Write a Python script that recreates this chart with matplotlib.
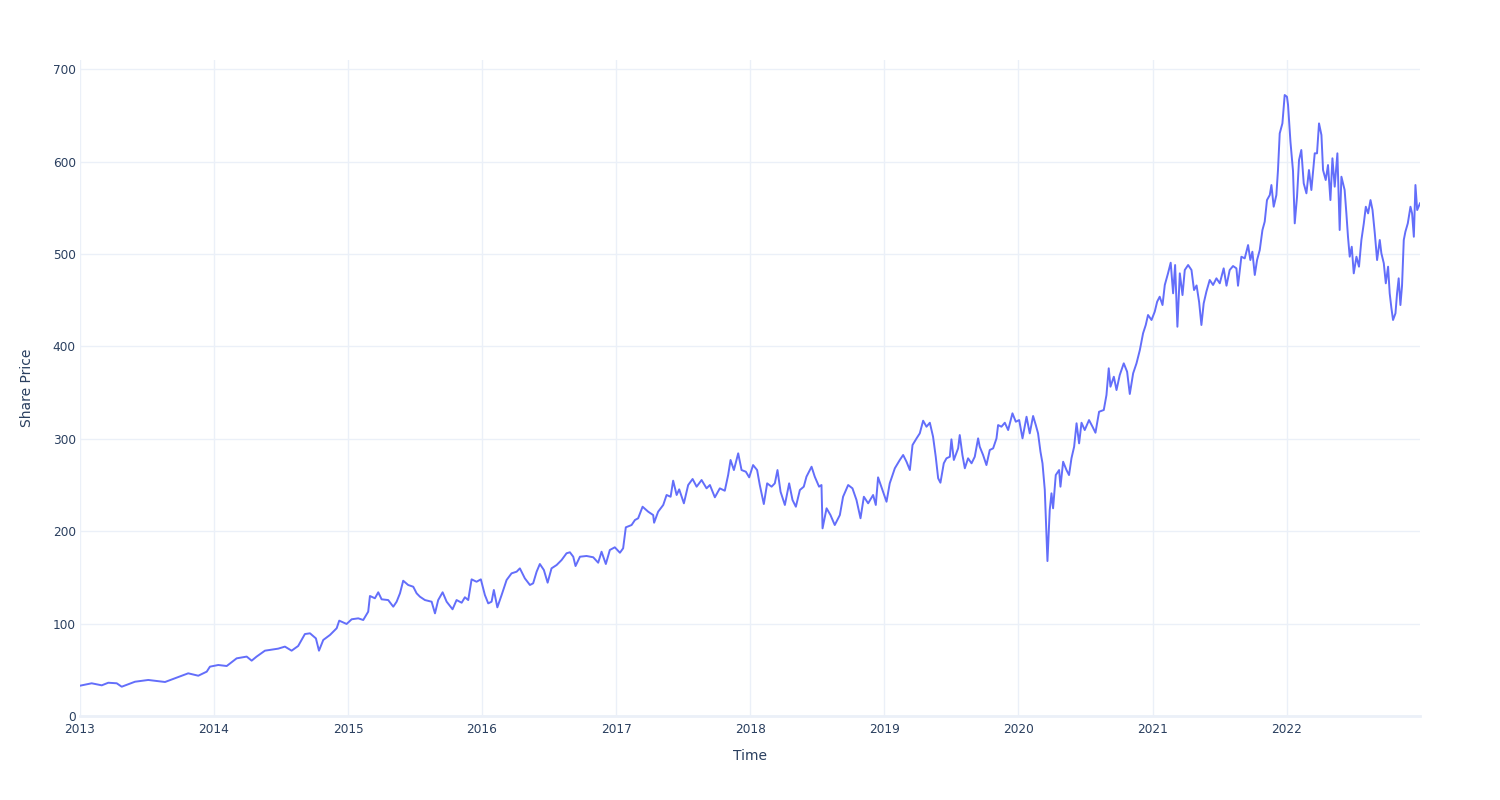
import matplotlib
matplotlib.use("Agg")
import matplotlib.pyplot as plt
import matplotlib.dates as mdates
import pandas as pd
import numpy as np

# time in years since 2013-01-01
t_years = [
 0, 0.087, 0.162, 0.211, 0.274, 0.311, 0.410, 0.509, 0.634, 0.708, 0.807, 0.882, 0.945, 0.969,
 1.031, 1.094, 1.168, 1.243, 1.280, 1.317, 1.379, 1.478, 1.528, 1.578, 1.627, 1.677, 1.715,
 1.759, 1.782, 1.814, 1.864, 1.914, 1.933, 1.988, 2.026, 2.075, 2.112, 2.149, 2.162, 2.199,
 2.224, 2.249, 2.298, 2.336, 2.361, 2.386, 2.410, 2.447, 2.485, 2.510, 2.535, 2.572, 2.622,
 2.647, 2.671, 2.704, 2.734, 2.778, 2.808, 2.846, 2.870, 2.895, 2.920, 2.957, 2.989,
 3.019, 3.044, 3.069, 3.086, 3.112, 3.144, 3.181, 3.218, 3.256, 3.280, 3.317, 3.355, 3.379,
 3.405, 3.429, 3.459, 3.487, 3.516, 3.554, 3.591, 3.628, 3.653, 3.678, 3.695, 3.728, 3.777,
 3.827, 3.864, 3.889, 3.921, 3.951, 3.988, 4.026, 4.050, 4.070, 4.113, 4.138, 4.162, 4.195,
 4.237, 4.274, 4.281, 4.311, 4.349, 4.374, 4.404, 4.423, 4.449,
 4.468, 4.503, 4.535, 4.568, 4.598, 4.635, 4.672, 4.697, 4.734, 4.771, 4.808, 4.833, 4.851,
 4.876, 4.908, 4.933, 4.965, 4.990, 5.019, 5.049, 5.069, 5.099, 5.124, 5.157, 5.181, 5.201,
 5.224, 5.256, 5.288, 5.313, 5.338, 5.368, 5.397, 5.417, 5.455, 5.479, 5.511, 5.529, 5.537,
 5.567, 5.596, 5.628, 5.666, 5.690, 5.728, 5.760, 5.790, 5.820, 5.845, 5.877, 5.914, 5.934,
 5.951, 5.984,
 6.014, 6.038, 6.076, 6.113, 6.138, 6.163, 6.188, 6.208, 6.238, 6.262, 6.287, 6.312, 6.337,
 6.361, 6.381, 6.399, 6.416, 6.441, 6.461, 6.486, 6.498, 6.516, 6.548, 6.560, 6.580, 6.598,
 6.622, 6.648, 6.672, 6.697, 6.709, 6.734, 6.759, 6.784, 6.809, 6.834, 6.846, 6.871, 6.896,
 6.921, 6.953, 6.978, 7.003, 7.028, 7.058, 7.082, 7.107, 7.127, 7.144, 7.162, 7.177, 7.194,
 7.207, 7.214, 7.231, 7.244, 7.256, 7.276,
 7.301, 7.311, 7.331, 7.356, 7.375, 7.393, 7.413, 7.431, 7.450, 7.468, 7.492, 7.524, 7.550,
 7.572, 7.599, 7.634, 7.654, 7.671, 7.684, 7.709, 7.729, 7.753, 7.783, 7.808, 7.828, 7.853,
 7.878, 7.903, 7.927, 7.947, 7.964, 7.990, 8.014, 8.032, 8.051, 8.072, 8.089, 8.113, 8.133,
 8.151, 8.166, 8.183, 8.201, 8.221, 8.238, 8.263, 8.288, 8.307, 8.326,
 8.345, 8.362, 8.379, 8.399, 8.424, 8.449, 8.474, 8.499, 8.528, 8.549, 8.573, 8.598, 8.623,
 8.635, 8.660, 8.685, 8.710, 8.727, 8.742, 8.760, 8.777, 8.797, 8.817, 8.834, 8.851, 8.872,
 8.884, 8.901, 8.921, 8.933, 8.946, 8.966, 8.983, 9.000,
 9.008, 9.026, 9.045, 9.058, 9.075, 9.090, 9.107, 9.125, 9.145, 9.164, 9.182, 9.207, 9.224,
 9.239, 9.257, 9.269, 9.289, 9.306, 9.324, 9.339, 9.356, 9.376, 9.393, 9.406, 9.430, 9.443,
 9.455, 9.468, 9.483, 9.498, 9.518, 9.537, 9.555, 9.573, 9.588, 9.605, 9.623, 9.638, 9.655,
 9.672, 9.692, 9.704, 9.722, 9.737, 9.754, 9.766, 9.779, 9.791, 9.809, 9.821, 9.833, 9.846,
 9.858, 9.871, 9.883, 9.901, 9.921, 9.933, 9.946, 9.958, 9.971, 9.992,
]

share_price = [
 32.8, 35.4, 33.2, 36, 35.4, 31.7, 37.1, 39, 36.8, 40.8, 46.2, 43.6, 48, 53.4,
 55.2, 54.1, 62.4, 64.3, 59.9, 64.3, 70.7, 72.9, 75.1, 70.7, 75.8, 88.7, 89.5,
 84, 70.7, 82.3, 87.7, 95, 103.2, 99.6, 104.7, 105.7, 103.9, 112.9, 129.9, 127.4,
 133.9, 126.3, 125.5, 118.3, 123.7, 132.8, 146.4, 141.8, 139.9, 132.8, 129.1, 125.5, 123.7,
 111.1, 125.5, 133.9, 123.7, 115.5, 125.5, 122.6, 128.5, 125.5, 147.9, 145.3, 147.9,
 131, 121.9, 123.7, 136.4, 117.6, 131, 147.2, 154.4, 156.2, 159.8, 149, 141.8, 143.6,
 156.2, 164.5, 158, 144.3, 159.8, 163.4, 168.8, 176.1, 177.2, 172.4, 162.3, 172.4, 173.2,
 171.8, 165.9, 177.8, 164.5, 179.7, 182.6, 176.7, 181.5, 204.2, 206.7, 212.1, 214, 226.5,
 221.1, 217.5, 209.2, 221.1, 228.4, 239.2, 237.3, 254.7, 239.2,
 245.3, 230.2, 250, 256.5, 248.2, 255.4, 246.4, 250, 236.7, 246.4, 243.8, 260.8, 277.1,
 266.2, 284.3, 266.2, 264.4, 258.3, 271.6, 266.2, 250, 229.4, 251.8, 248.2, 251.8, 266.2,
 242.7, 228.4, 251.8, 233.8, 226.5, 244.6, 248.2, 259, 269.8, 259, 248.2, 250, 203.1,
 224.8, 217.5, 206.7, 217.5, 237.3, 250, 246.4, 233.8, 214, 237.3, 230.2, 239.2, 228.4,
 258.3, 244.6,
 231.9, 251.8, 268.1, 277.1, 282.5, 275.2, 266.2, 293.3, 300.5, 305.9, 319.6, 313.1, 317.4,
 302.3, 280.6, 257.3, 252.5, 273.5, 278.9, 280.6, 299.4, 277.1, 289.7, 304.1, 282.5, 268.1,
 278.9, 273.5, 280.6, 300.5, 291.5, 282.5, 271.6, 287.9, 289.7, 300.5, 314.9, 313.1, 317.4,
 309.5, 327.6, 318.5, 320.3, 300.5, 323.9, 305.9, 324.7, 314.9, 305.9, 286, 273.5, 245,
 194, 167.7, 222.9, 241, 224.8, 260.8,
 266.2, 248.2, 275.2, 266.2, 260.8, 278.9, 291.5, 316.8, 295.1, 317.4, 309.5, 320.3, 313.1,
 306.6, 329.3, 331.2, 347.4, 376.3, 356.4, 367.2, 352.8, 369, 381.7, 372.6, 348.5, 370.9,
 381.7, 396.1, 414.2, 423.2, 434, 428.6, 437.6, 448.4, 453.8, 444.8, 466.5, 479.1, 490.6,
 457.5, 488.1, 421.3, 479.1, 455.6, 482.7, 488.1, 482.7, 461, 466,
 448, 423.2, 446.6, 459.2, 471.9, 466.5, 473.7, 468.3, 484.5, 465.7, 482.7, 487, 484.5,
 465.7, 497.1, 495.3, 509.7, 493.5, 502.5, 477.3, 493.5, 504.3, 525.9, 535, 558.4, 563.9,
 574.7, 551.2, 563.9, 590.9, 630.6, 641.4, 672.1, 670.2,
 661.3, 621.5, 590, 533.2, 562, 601.7, 612.6, 576.5, 565.7, 590.9, 569.3, 609, 609,
 641.4, 628.8, 590.9, 580.1, 596.3, 558.4, 603.6, 572.9, 609, 526, 583.7, 569.3, 544,
 518.7, 497.1, 507.9, 479.1, 497.1, 486.3, 515.2, 533.2, 551.2, 544, 558.4, 547.6, 522.4,
 493.5, 515.2, 500.8, 490, 468.3, 486.3, 457.5, 441.2, 428.6, 435.8, 457.5, 473.7, 444.8,
 465.7, 515.2, 524.1, 533.2, 551.2, 544, 518.7, 574.7, 547.6, 554.9,
]

y_ticks = [0, 100, 200, 300, 400, 500, 600, 700]

start = pd.Timestamp("2013-01-01")
dates = start + pd.to_timedelta(np.array(t_years) * 365.25, unit="D")

TEXT = "#2a3f5f"
GRID = "#EBF0F8"

fig = plt.figure(figsize=(15, 8), dpi=100)
ax = fig.add_axes([80 / 1500, 84 / 800, 1340 / 1500, 656 / 800])
ax.plot(dates, share_price, color="#636efa", lw=1.4, solid_joinstyle="round", zorder=3)

ax.set_xlim(dates[0], dates[-1])
ax.set_ylim(0, 710)
ax.set_yticks(y_ticks)
ax.xaxis.set_major_locator(mdates.YearLocator())
ax.xaxis.set_major_formatter(mdates.DateFormatter("%Y"))

ax.grid(True, color=GRID, lw=1)
ax.set_axisbelow(True)
ax.axhline(0, color=GRID, lw=2, zorder=1, clip_on=False)
for s in ax.spines.values():
    s.set_visible(False)
ax.tick_params(axis="both", length=0, labelsize=8.7, labelcolor=TEXT)
ax.tick_params(axis="y", pad=3)
ax.tick_params(axis="x", pad=5)

ax.set_xlabel("Time", fontsize=10, color=TEXT, va="center")
ax.set_ylabel("Share Price", fontsize=10, color=TEXT, va="center")
ax.xaxis.set_label_coords(0.5, (716 - 756) / 656)
ax.yaxis.set_label_coords((27 - 80) / 1340, 0.5)

fig.savefig("out.png", dpi=100, facecolor="white")
